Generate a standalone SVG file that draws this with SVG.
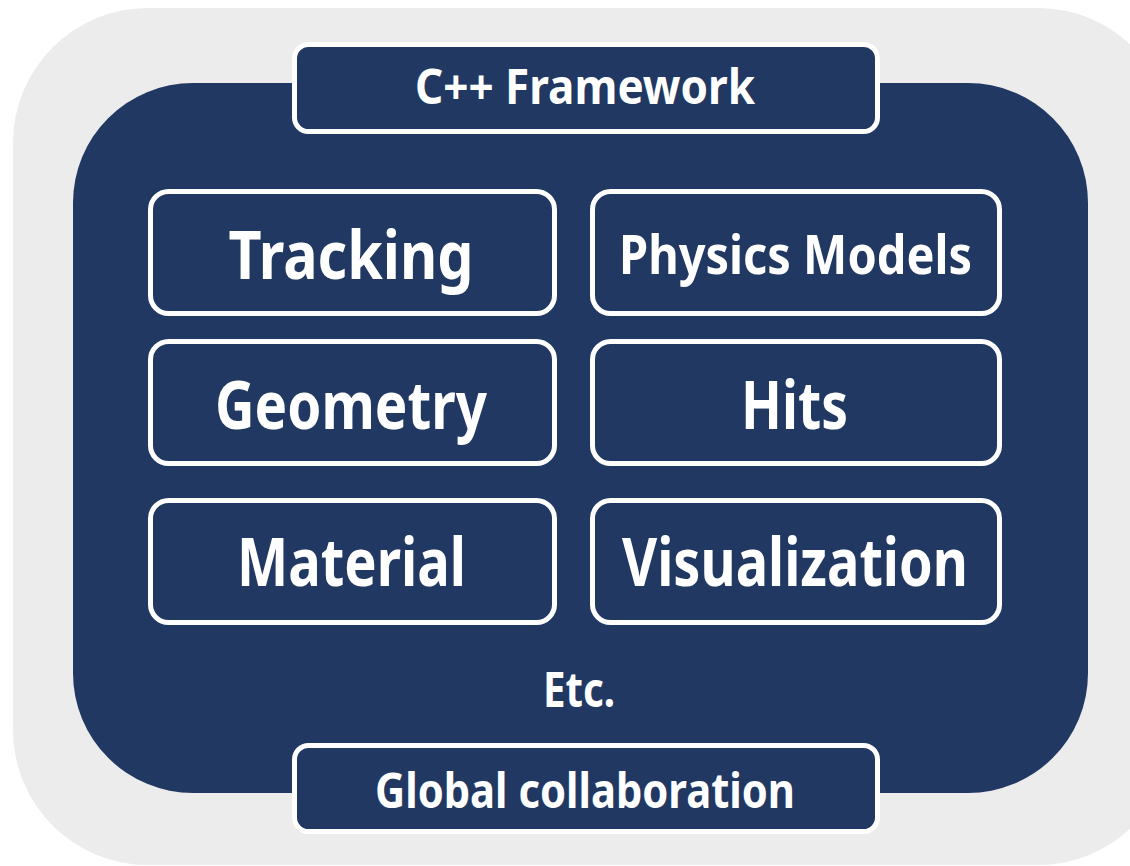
<svg xmlns="http://www.w3.org/2000/svg" width="1130" height="866" viewBox="0 0 1130 866">
  <style>
    .panel { fill: #213862; stroke: #ffffff; stroke-width: 5; }
    .lbl { fill: #ffffff; font-family: "Noto Sans", "Open Sans", "Liberation Sans", sans-serif; font-weight: bold; text-anchor: middle; }
    .big { font-size: 66px; }
    .mid { font-size: 53px; }
    .small { font-size: 48px; }
  </style>
  <rect width="1130" height="866" fill="#ffffff"/>
  <!-- backdrop -->
  <rect x="13" y="8" width="1160" height="857" rx="135" ry="135" fill="#ececec"/>
  <!-- framework body -->
  <rect x="73" y="83" width="1015" height="710" rx="120" ry="120" fill="#213862"/>

  <g id="cpp-framework">
    <rect class="panel" x="294.5" y="44.5" width="583" height="87" rx="14"/>
    <text class="lbl small" x="585" y="104" textLength="340" lengthAdjust="spacingAndGlyphs">C++ Framework</text>
  </g>
  <g id="tracking">
    <rect class="panel" x="150.5" y="191.5" width="404" height="122" rx="18"/>
    <text class="lbl big" x="351" y="279" textLength="245" lengthAdjust="spacingAndGlyphs">Tracking</text>
  </g>
  <g id="physics-models">
    <rect class="panel" x="592.5" y="191.5" width="407" height="122" rx="18"/>
    <text class="lbl mid" x="795.5" y="274" textLength="353" lengthAdjust="spacingAndGlyphs">Physics Models</text>
  </g>
  <g id="geometry">
    <rect class="panel" x="150.5" y="341.5" width="404" height="122" rx="18"/>
    <text class="lbl big" x="351" y="429" textLength="272" lengthAdjust="spacingAndGlyphs">Geometry</text>
  </g>
  <g id="hits">
    <rect class="panel" x="592.5" y="341.5" width="407" height="122" rx="18"/>
    <text class="lbl big" x="794.5" y="429" textLength="107" lengthAdjust="spacingAndGlyphs">Hits</text>
  </g>
  <g id="material">
    <rect class="panel" x="150.5" y="500.5" width="404" height="122" rx="18"/>
    <text class="lbl big" x="351.5" y="586" textLength="229" lengthAdjust="spacingAndGlyphs">Material</text>
  </g>
  <g id="visualization">
    <rect class="panel" x="592.5" y="500.5" width="407" height="122" rx="18"/>
    <text class="lbl big" x="795" y="586" textLength="346" lengthAdjust="spacingAndGlyphs">Visualization</text>
  </g>
  <g id="etc">
    <text class="lbl small" x="579" y="707" textLength="72" lengthAdjust="spacingAndGlyphs">Etc.</text>
  </g>
  <g id="global-collaboration">
    <rect class="panel" x="294.5" y="745.5" width="583" height="86" rx="14"/>
    <text class="lbl small" x="585" y="808" textLength="420" lengthAdjust="spacingAndGlyphs">Global collaboration</text>
  </g>
  <g id="connectors"/>
</svg>
